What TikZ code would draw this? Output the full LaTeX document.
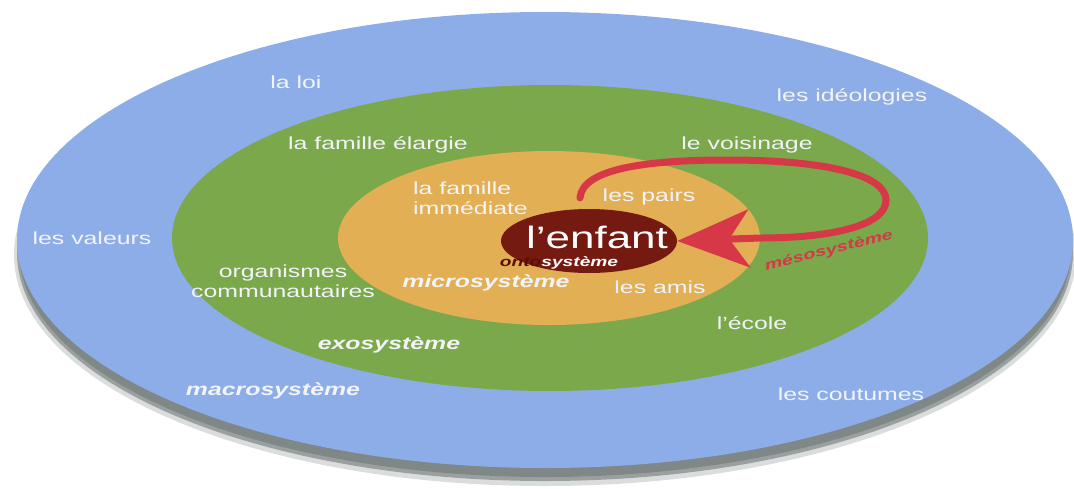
\documentclass[tikz,border=0pt]{standalone}
\usepackage{fontspec}
\setmainfont{Liberation Sans}[FakeStretch=1.42]
\usetikzlibrary{arrows.meta,shapes.geometric}
\definecolor{macroblue}{HTML}{8DADE9}
\definecolor{exogreen}{HTML}{7AA84A}
\definecolor{microorange}{HTML}{E2AF55}
\definecolor{childbrown}{HTML}{741A10}
\definecolor{ontobrown}{HTML}{5A0E06}
\definecolor{mesored}{HTML}{D63848}
\definecolor{shadowgray}{HTML}{6F7777}
\definecolor{labelwhite}{HTML}{F2F4F8}
\tikzset{
  lbl/.style={text=labelwhite, inner sep=0pt, font=\fontsize{17.5}{20.5}\selectfont},
  syslbl/.style={text=labelwhite, inner sep=0pt, font=\fontsize{17.5}{20.5}\selectfont\bfseries\itshape},
  mesoarrow/.style={draw=mesored, line width=7pt, line cap=round,
    -{Stealth[length=72pt, width=58pt, inset=20pt]}},
}
\begin{document}
\begin{tikzpicture}[x=1pt,y=-1pt]
\useasboundingbox (0,0) rectangle (1074,488);
% shadow
\fill[shadowgray, opacity=0.25] (545,255) ellipse [x radius=531, y radius=231];
\fill[shadowgray, opacity=0.6] (545,253) ellipse [x radius=528, y radius=228];
\fill[shadowgray, opacity=0.6] (545,251) ellipse [x radius=526, y radius=226];
% rings
\fill[macroblue] (545,240) ellipse [x radius=528, y radius=228];
\fill[exogreen] (550,238) ellipse [x radius=378, y radius=153];
\fill[microorange] (549,238) ellipse [x radius=211, y radius=87];
\node[ellipse, fill=childbrown, minimum width=176pt, minimum height=64pt, inner sep=0pt] (child) at (589,241) {};
% labels
\node[lbl, text=white, font=\fontsize{31}{34}\selectfont] (enfant) at (597,237) {l’enfant};
\node[inner sep=0pt, font=\fontsize{13.5}{15}\selectfont\bfseries\itshape] (onto) at (559,263) {\textcolor{ontobrown}{onto}\textcolor{white}{système}};
\node[lbl] (loi) at (296,82) {la loi};
\node[lbl] (ideo) at (852,97) {les idéologies};
\node[lbl] (elargie) at (378,145) {la famille élargie};
\node[lbl] (voisin) at (747,145) {le voisinage};
\node[lbl, align=left, anchor=west] (immed) at (413,198) {la famille\\immédiate};
\node[lbl] (pairs) at (649,197) {les pairs};
\node[lbl] (valeurs) at (92,238) {les valeurs};
\node[lbl, align=center] (orga) at (283,281) {organismes\\communautaires};
\node[syslbl] (micro) at (486,283) {microsystème};
\node[lbl] (amis) at (660,287) {les amis};
\node[lbl] (ecole) at (752,323) {l’école};
\node[syslbl] (exo) at (389,345) {exosystème};
\node[syslbl] (macro) at (273,391) {macrosystème};
\node[lbl] (coutumes) at (851,394) {les coutumes};
% mesosystem arrow
\coordinate (mstart) at (580,198);
\draw[mesoarrow] (mstart) .. controls (582,168) and (650,160) .. (727,160)
  .. controls (830,160) and (886,176) .. (886,200)
  .. controls (886,226) and (830,238) .. (760,238) -- (child.east);
\node[inner sep=0pt, text=mesored, rotate=14, font=\fontsize{14}{16}\selectfont\bfseries\itshape] (meso) at (829,251) {mésosystème};
\end{tikzpicture}
\end{document}
